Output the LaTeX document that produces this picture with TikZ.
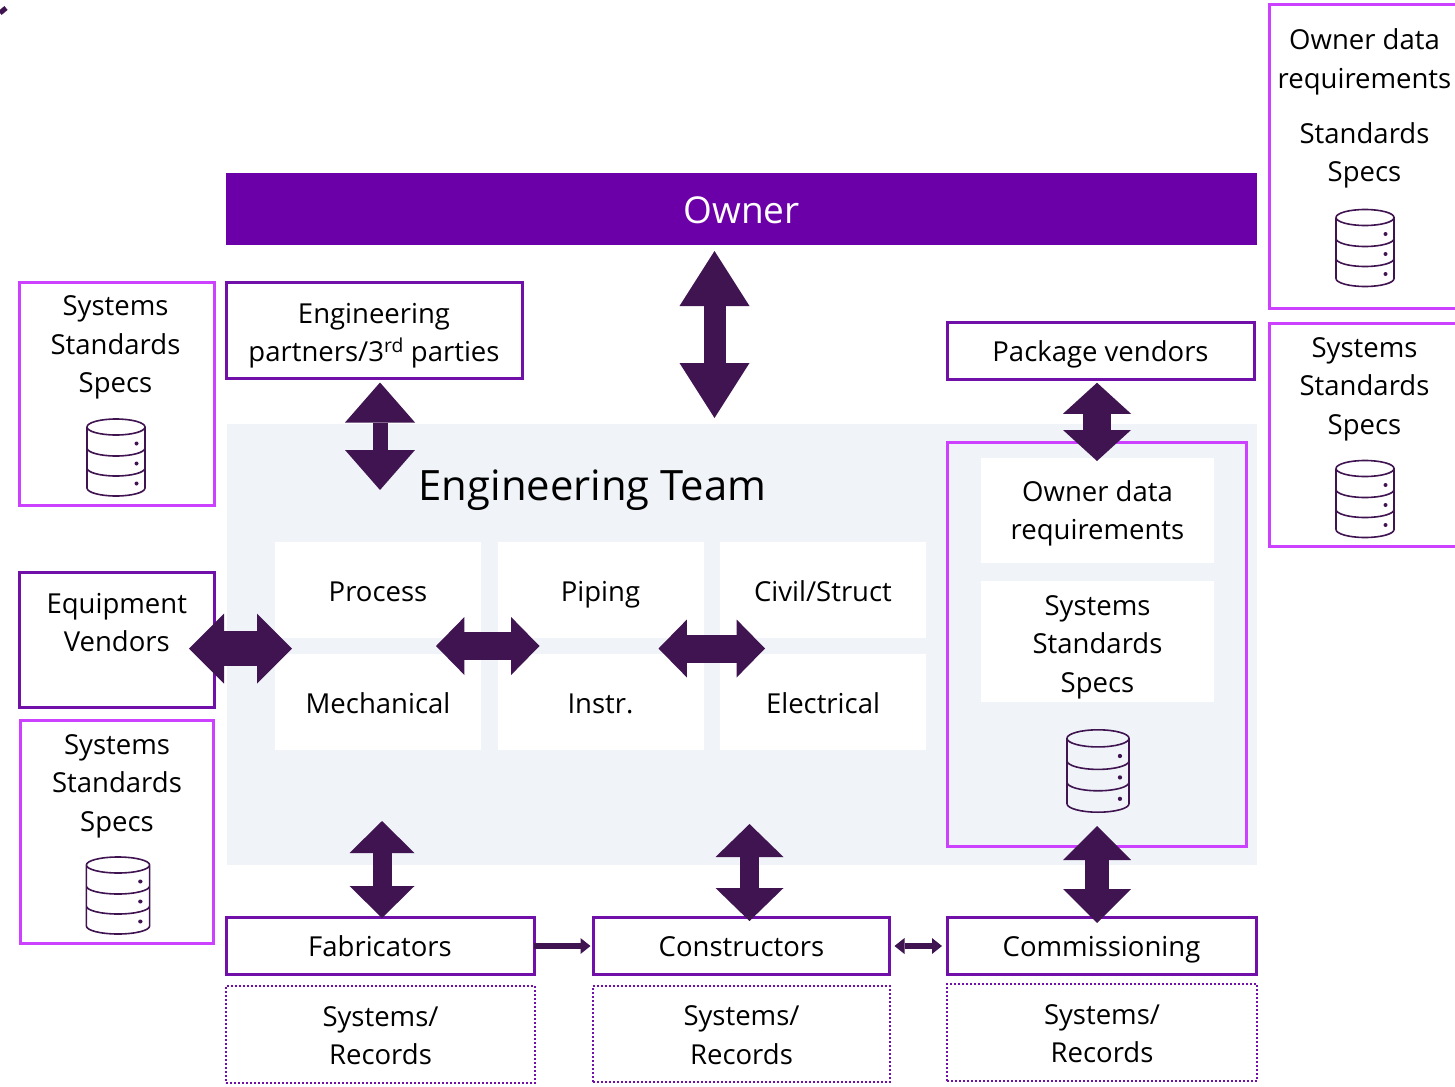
\documentclass[tikz,border=0pt]{standalone}
\usepackage{fontspec}
\setmainfont{Open Sans}
\usetikzlibrary{arrows.meta}
\definecolor{deepviolet}{HTML}{3F1451}
\definecolor{ownerviolet}{HTML}{6C00A8}
\definecolor{framepurple}{HTML}{7010A8}
\definecolor{framepink}{HTML}{CC40FF}
\definecolor{teamgrey}{HTML}{F0F4F8}
\newcommand{\linetop}[1]{\rule{0pt}{\dimexpr 2\dimexpr #1pt\relax+7pt\relax}}
\newcommand{\linebot}{\rule[-7pt]{0pt}{7pt}}
\newcommand{\textstack}[2][11]{\linetop{#1}#2\linebot}
\begin{document}
\begin{tikzpicture}[x=1pt, y=-1pt, node distance=222.5pt,
    every node/.style = {inner sep=0pt, outer sep=0pt, align=center, font=\fontsize{27.5}{38.5}\selectfont},
    lined/.style = {execute at begin node=\linetop{#1}, execute at end node=\linebot},
    main/.style = {draw=framepurple, line width=3pt},
    store/.style = {draw=framepink, line width=3pt},
    trade/.style = {lined=11, fill=white, minimum width=206pt, minimum height=96pt},
    vault/.style = {fill=white, minimum width=233pt},
    records/.style = {draw=framepurple, line width=2pt, dash pattern=on 2pt off 2pt, minimum height=97pt},
    twoway/.style n args = {4}{draw=deepviolet, line width=#4pt,
      {Triangle[length=#2pt,width=#3pt,line width=0pt,fill=deepviolet]}-{Triangle[length=#2pt,width=#3pt,line width=0pt,fill=deepviolet]},
      #1},
    oneway/.style = {draw=deepviolet, line width=6pt, -{Triangle[length=10pt,width=16pt,line width=0pt,fill=deepviolet]}},
    dbicon/.pic = {
      \draw[deepviolet, line width=1.6pt, fill=none] (-29,-30.5) arc[start angle=180, end angle=-180, x radius=29, y radius=8]
        (-29,-30.5) -- (-29,30.5) arc[start angle=180, end angle=0, x radius=29, y radius=8] -- (29,-30.5)
        (-29,-9.5) arc[start angle=180, end angle=0, x radius=29, y radius=8]
        (-29,10.5) arc[start angle=180, end angle=0, x radius=29, y radius=8];
      \foreach \h in {-14,6,26} \fill[deepviolet] (20.5,\h) circle (2pt);
    }]
  \useasboundingbox (0,0) rectangle (1455,1086);

  \draw[deepviolet, line width=5pt] (0,13) -- (6,8);

  \node[fill=teamgrey, minimum width=1030pt, minimum height=441pt] (team) at (742,644.5) {};
  \node[fill=ownerviolet, text=white, minimum width=1031pt, minimum height=72pt, font=\fontsize{37}{46}\selectfont] (owner) at (741.5,209) {\rule[-9pt]{0pt}{46pt}Owner};
  \node (teamtitle) at (592.5,490) [font=\fontsize{41.8}{50}\selectfont] {Engineering Team};

  % discipline grid
  \node[trade] (process) at (378,590) {Process};
  \node[trade] (piping) [right of=process] {Piping};
  \node[trade] (civil) [right of=piping] {Civil/Struct};
  \node[trade] (mechanical) at (378,702) {Mechanical};
  \node[trade] (instr) [right of=mechanical] {Instr.};
  \node[trade] (electrical) [right of=instr] {Electrical};

  % team data store
  \node[store, minimum width=299pt, minimum height=404pt] (teamstore) at (1096.5,644) {};
  \node[vault, minimum height=105pt] (ownerreq) at (1097.5,510.5) {\textstack[10]{Owner data\\requirements}};
  \node[vault, minimum height=121pt] (teamspecs) at (1097.5,641.5) {\textstack[12]{Systems\\Standards\\Specs}};
  \pic at (1098,771) [scale=1.07] {dbicon};

  % outside parties
  \node[main, minimum width=296pt, minimum height=96pt] (partners) at (374,330.5) {\textstack[12]{Engineering\\partners/3\textsuperscript{rd} parties}};
  \node[main, lined=10, minimum width=307pt, minimum height=57.5pt] (vendors) at (1100.5,351) {Package vendors};
  \node[main, minimum width=194.5pt, minimum height=135pt] (equipment) at (116.75,640) {};
  \node (equiptext) at (116.75,621.5) {\textstack{Equipment\\Vendors}};

  % side stores
  \node[store, minimum width=194.5pt, minimum height=223pt] (leftstore) at (116.75,393.5) {};
  \node (lefttext) at (115.5,343) {\textstack{Systems\\Standards\\Specs}};
  \pic at (116,457.5) {dbicon};
  \node[store, minimum width=193pt, minimum height=223pt] (lowstore) at (117,831.5) {};
  \node (lowtext) at (117,781.5) {\textstack{Systems\\Standards\\Specs}};
  \pic at (118,895.5) [xscale=1.09] {dbicon};
  \node[store, minimum width=200pt, minimum height=303pt] (topstore) at (1369.5,156.5) {};
  \node (toptext) at (1364.5,58) {\textstack{Owner data\\requirements}};
  \node (topspecs) at (1364.5,151.5) {\textstack{Standards\\Specs}};
  \pic at (1365,248) {dbicon};
  \node[store, minimum width=200pt, minimum height=223pt] (sidestore) at (1369.5,434.5) {};
  \node (sidetext) at (1364.5,384.5) {\textstack{Systems\\Standards\\Specs}};
  \pic at (1365,499) {dbicon};

  % lower row
  \node[main, lined=10, minimum width=308pt, minimum height=57pt] (fabricators) at (380,946) {Fabricators};
  \node[main, lined=10, minimum width=296pt, minimum height=57pt] (constructors) at (741.5,946) {Constructors};
  \node[main, lined=10, minimum width=309pt, minimum height=57pt] (commissioning) at (1101.5,946) {Commissioning};
  \node[records, minimum width=309pt] (fabrecords) at (380.5,1034.5) {\textstack{Systems/\\Records}};
  \node[records, minimum width=297pt, minimum height=96pt] (conrecords) at (741.5,1034) {\textstack{Systems/\\Records}};
  \node[records, minimum width=310pt] (comrecords) at (1102,1032.5) {\textstack{Systems/\\Records}};

  \coordinate (partnersend) at (380,490);
  \coordinate (fabricatorsend) at (382,821);

  \draw[twoway={shorten <=6pt, shorten >=6pt}{55}{70}{22}] ([xshift=-27pt]owner.south) -- ([xshift=-27.5pt]team.north);
  \draw[twoway={shorten <=4pt}{40}{70}{15}] ([xshift=6pt]partners.south) -- (partnersend);
  \draw[twoway={shorten <=3pt, shorten >=-3pt}{31}{68}{28}] ([xshift=-3.5pt]vendors.south) -- ([xshift=-0.5pt]ownerreq.north);
  \draw[twoway={shorten <=-25pt, shorten >=-17pt}{35}{70}{35}] ([yshift=-8.5pt]equipment.east) -- ([yshift=-10.5pt]process.south west);
  \draw[twoway={shorten <=-45pt, shorten >=-42pt}{28.4}{58}{28}] ([yshift=-8pt]process.south east) -- ([yshift=-8pt]piping.south west);
  \draw[twoway={shorten <=-45pt, shorten >=-45pt}{28.4}{58}{28}] ([yshift=-10.5pt]piping.south east) -- ([yshift=-10.5pt]civil.south west);
  \draw[twoway={shorten <=-0.5pt}{32}{65}{19}] ([xshift=2pt]fabricators.north) -- (fabricatorsend);
  \draw[twoway={shorten <=-3.5pt, shorten >=-41pt}{33}{68}{19}] ([xshift=8pt]constructors.north) -- ([xshift=7.5pt]team.south);
  \draw[twoway={shorten <=-5.5pt, shorten >=-20pt}{34}{68}{24}] ([xshift=-4.5pt]commissioning.north) -- ([xshift=0.5pt]teamstore.south);
  \draw[oneway, shorten >=3pt] (fabricators.east) -- (constructors.west);
  \draw[twoway={shorten <=5pt, shorten >=5pt}{10}{16}{6}] (constructors.east) -- (commissioning.west);
\end{tikzpicture}
\end{document}
